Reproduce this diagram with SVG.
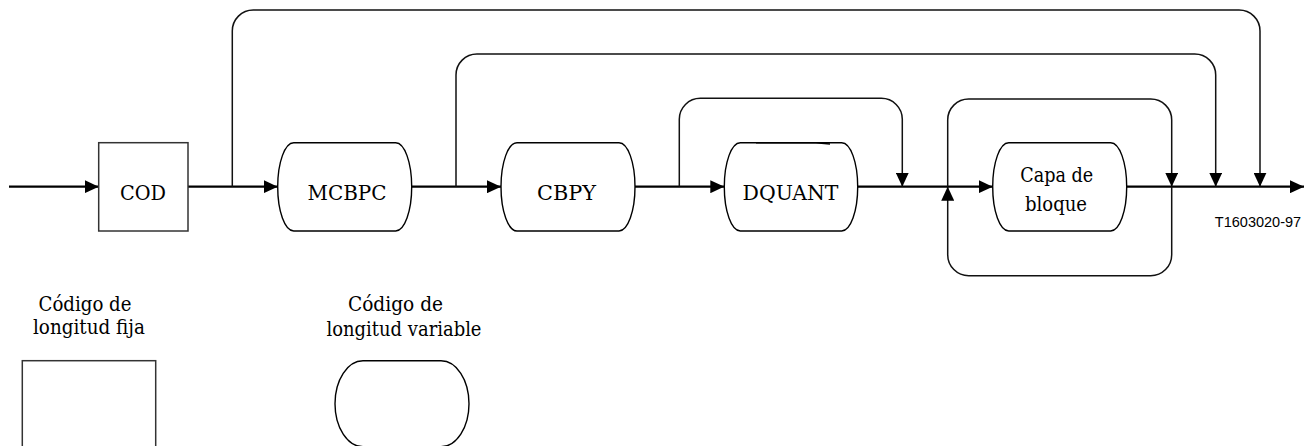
<svg xmlns="http://www.w3.org/2000/svg" width="1305" height="446" viewBox="0 0 1305 446">
<defs>
<marker id="arr" markerUnits="userSpaceOnUse" markerWidth="14" markerHeight="13" refX="14" refY="6.5" orient="auto">
<path d="M0,0 L14,6.5 L0,13 Z" fill="#000"/>
</marker>
<style>
.node{fill:#fff;stroke:#000;stroke-width:1.4}
.box{fill:#fff;stroke:#333;stroke-width:1.5}
.main{fill:none;stroke:#000;stroke-width:2.2}
.loop{fill:none;stroke:#111;stroke-width:1.5}
text{fill:#000;text-anchor:middle}
.t{font-family:"DejaVu Serif",serif;font-size:20.5px}
.id{font-family:"Liberation Sans",Arial,sans-serif;font-size:14.5px}
</style>
</defs>
<rect width="1305" height="446" fill="#fff"/>
<g id="connectors">
<path class="main" d="M9 186.7 H98.7" marker-end="url(#arr)"/>
<path class="main" d="M188 186.7 H277.7" marker-end="url(#arr)"/>
<path class="main" d="M411.7 186.7 H501" marker-end="url(#arr)"/>
<path class="main" d="M635 186.7 H724.3" marker-end="url(#arr)"/>
<path class="main" d="M857.7 186.7 H992.7" marker-end="url(#arr)"/>
<path class="main" d="M1126.7 186.7 H1304" marker-end="url(#arr)"/>
<path class="loop" d="M232.3 186.7 V31 A21 21 0 0 1 253.3 10 H1239 A21 21 0 0 1 1260 31 V186.7" marker-end="url(#arr)"/>
<path class="loop" d="M456 186.7 V75 A21 21 0 0 1 477 54 H1194.7 A21 21 0 0 1 1215.7 75 V186.7" marker-end="url(#arr)"/>
<path class="loop" d="M679.3 186.7 V119.3 A21 21 0 0 1 700.3 98.3 H881.3 A21 21 0 0 1 902.3 119.3 V186.7" marker-end="url(#arr)"/>
<path class="loop" d="M947.7 186.7 V120 A21 21 0 0 1 968.7 99 H1150.7 A21 21 0 0 1 1171.7 120 V186.7" marker-end="url(#arr)"/>
<path class="loop" d="M1171.7 186.7 V254.7 A21 21 0 0 1 1150.7 275.7 H968.7 A21 21 0 0 1 947.7 254.7 V186.7" marker-end="url(#arr)"/>
</g>
<g id="cod">
<rect class="box" x="98.7" y="142.7" width="89.3" height="88.3"/>
<text class="t" x="143" y="200" textLength="46" lengthAdjust="spacingAndGlyphs">COD</text>
</g>
<g id="mcbpc">
<path class="node" d="M293.7 142.7 H395.7 A16 44.15 0 0 1 395.7 231 H293.7 A16 44.15 0 0 1 293.7 142.7 Z"/>
<text class="t" x="347" y="200" textLength="79" lengthAdjust="spacingAndGlyphs">MCBPC</text>
</g>
<g id="cbpy">
<path class="node" d="M517 142.7 H619 A16 44.15 0 0 1 619 231 H517 A16 44.15 0 0 1 517 142.7 Z"/>
<text class="t" x="566.5" y="200" textLength="59" lengthAdjust="spacingAndGlyphs">CBPY</text>
</g>
<g id="dquant">
<path class="node" d="M740.3 142.7 H841.7 A16 44.15 0 0 1 841.7 231 H740.3 A16 44.15 0 0 1 740.3 142.7 Z"/>
<path d="M756 142.9 L816 142.9 L830 144" fill="none" stroke="#000" stroke-width="1.4"/>
<text class="t" x="790.5" y="200" textLength="96" lengthAdjust="spacingAndGlyphs">DQUANT</text>
</g>
<g id="capa">
<path class="node" d="M1008.7 142.7 H1110.7 A16 44.15 0 0 1 1110.7 231 H1008.7 A16 44.15 0 0 1 1008.7 142.7 Z"/>
<text class="t" x="1056.7" y="182" textLength="73" lengthAdjust="spacingAndGlyphs">Capa de</text>
<text class="t" x="1056" y="211" textLength="62" lengthAdjust="spacingAndGlyphs">bloque</text>
</g>
<g id="legend-fixed">
<text class="t" x="85" y="311" textLength="93" lengthAdjust="spacingAndGlyphs">Código de</text>
<text class="t" x="89" y="334" textLength="112" lengthAdjust="spacingAndGlyphs">longitud fija</text>
<rect class="box" x="22.3" y="360.7" width="133.4" height="90"/>
</g>
<g id="legend-variable">
<text class="t" x="395.5" y="311" textLength="95" lengthAdjust="spacingAndGlyphs">Código de</text>
<text class="t" x="404" y="336" textLength="155" lengthAdjust="spacingAndGlyphs">longitud variable</text>
<path class="node" d="M363 360.7 H441 A28 43 0 0 1 441 446.7 H363 A28 43 0 0 1 363 360.7 Z"/>
</g>
<g id="figure-id">
<text class="id" x="1258" y="227">T1603020-97</text>
</g>
</svg>
